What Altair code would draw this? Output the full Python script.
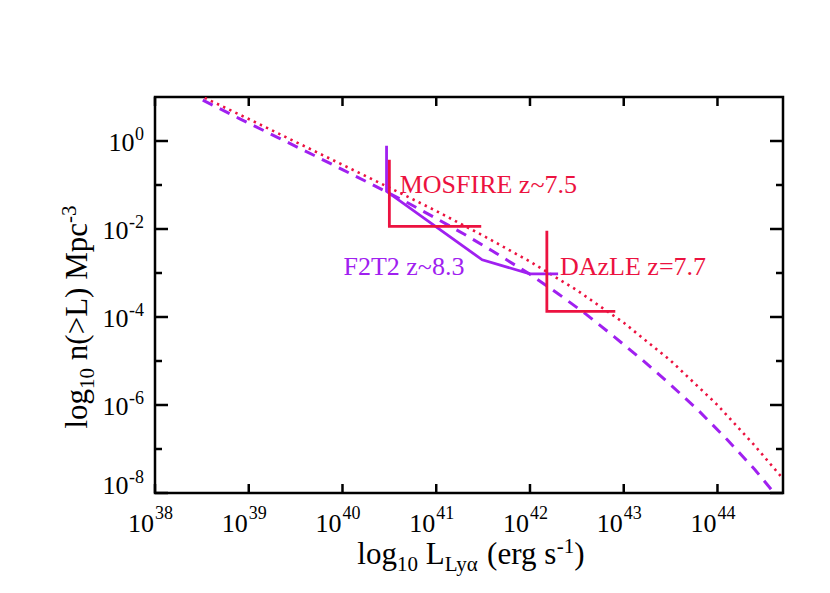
import altair as alt
import pandas as pd

# ---------------- data (log10 values) ----------------
# dashed purple model curve
dash_logL = [38.51, 38.9, 39.3, 39.7, 40.0, 40.3, 40.7, 41.0, 41.3, 41.6, 42.0,
             42.3, 42.6, 42.9, 43.2, 43.5, 43.8, 44.1, 44.4, 44.6]
dash_logn = [0.93, 0.51, 0.09, -0.33, -0.65, -0.97, -1.41, -1.76, -2.12, -2.50, -3.03,
             -3.47, -3.94, -4.45, -4.98, -5.54, -6.13, -6.78, -7.47, -7.99]
# dotted red model curve
dot_logL = [38.53, 39.0, 39.5, 40.0, 40.5, 41.0, 41.5, 42.0, 42.5, 43.0, 43.5,
            44.0, 44.4, 44.70]
dot_logn = [0.98, 0.50, -0.02, -0.54, -1.06, -1.59, -2.15, -2.74, -3.39, -4.13, -4.99,
            -6.00, -6.93, -7.68]

# survey constraints
f2t2_logL = [40.47, 40.47, 41.49, 42.00, 42.30]
f2t2_logn = [-0.11, -1.145, -2.70, -3.02, -3.02]
mosfire_logL = [40.50, 40.50, 41.48]
mosfire_logn = [-0.425, -1.94, -1.94]
dazle_logL = [42.18, 42.18, 42.91]
dazle_logn = [-2.04, -3.87, -3.87]

label_text = ["MOSFIRE z~7.5", "F2T2 z~8.3", "DAzLE z=7.7"]
label_survey = ["MOSFIRE", "F2T2", "DAzLE"]
label_logL = [40.61, 40.01, 42.32]
label_logn = [-1.18, -3.04, -3.04]

x_tick_exps = [38, 39, 40, 41, 42, 43, 44]
y_tick_exps = [0, -1, -2, -3, -4, -5, -6, -7, -8]
y_label_exps = [0, -2, -4, -6, -8]

x_domain = [38, 44.699]
y_domain = [-8, 1]

# ---------------- styling ----------------
RED = "#EC1240"
PURPLE = "#A020F0"
FONT = "Liberation Serif"
W, H = 628, 396

survey_scale = alt.Scale(domain=["MOSFIRE", "F2T2", "DAzLE"], range=[RED, PURPLE, RED])


def X(field):
    return alt.X(field, type="quantitative", scale=alt.Scale(domain=x_domain, nice=False, zero=False), axis=None)


def Y(field):
    return alt.Y(field, type="quantitative", scale=alt.Scale(domain=y_domain, nice=False, zero=False), axis=None)


dash_df = pd.DataFrame({"logL": dash_logL, "logn": dash_logn, "i": range(len(dash_logL))})
dot_df = pd.DataFrame({"logL": dot_logL, "logn": dot_logn, "i": range(len(dot_logL))})

rows = []
for name, xs, ys in [("F2T2", f2t2_logL, f2t2_logn), ("MOSFIRE", mosfire_logL, mosfire_logn),
                     ("DAzLE", dazle_logL, dazle_logn)]:
    for i, (a, b) in enumerate(zip(xs, ys)):
        rows.append({"survey": name, "i": i, "logL": a, "logn": b})
surv_df = pd.DataFrame(rows)

lab_df = pd.DataFrame({"label": label_text, "survey": label_survey, "logL": label_logL, "logn": label_logn})

layers = []

dotted = alt.Chart(dot_df).mark_line(color=RED, strokeWidth=2.6, strokeDash=[2.4, 4.4], clip=True).encode(
    x=X("logL"), y=Y("logn"), order="i:Q")
dashed = alt.Chart(dash_df).mark_line(color=PURPLE, strokeWidth=3, strokeDash=[11, 8], clip=True).encode(
    x=X("logL"), y=Y("logn"), order="i:Q")
surveys = alt.Chart(surv_df).mark_line(strokeWidth=2.8, strokeJoin="miter", strokeCap="butt").encode(
    x=X("logL"), y=Y("logn"), order="i:Q", detail="survey:N",
    color=alt.Color("survey:N", scale=survey_scale, legend=None))
labels = alt.Chart(lab_df).mark_text(font=FONT, fontSize=26, align="left", baseline="alphabetic").encode(
    x=X("logL"), y=Y("logn"), text="label:N",
    color=alt.Color("survey:N", scale=survey_scale, legend=None))
layers += [dotted, dashed, surveys, labels]

# ---------------- ticks (drawn inward) ----------------
xt_df = pd.DataFrame({"e": x_tick_exps})
yt_df = pd.DataFrame({"e": y_tick_exps})
tick_style = dict(color="black", strokeWidth=2.5)
layers.append(alt.Chart(xt_df).mark_rule(**tick_style).encode(x=X("e"), y=alt.value(H), y2=alt.value(H - 9)))
layers.append(alt.Chart(xt_df).mark_rule(**tick_style).encode(x=X("e"), y=alt.value(0), y2=alt.value(9)))
major = alt.datum.e % 2 == 0
minor = alt.datum.e % 2 != 0
for filt, ln in [(major, 13), (minor, 7)]:
    layers.append(alt.Chart(yt_df).transform_filter(filt).mark_rule(**tick_style).encode(
        y=Y("e"), x=alt.value(0), x2=alt.value(ln)))
    layers.append(alt.Chart(yt_df).transform_filter(filt).mark_rule(**tick_style).encode(
        y=Y("e"), x=alt.value(W), x2=alt.value(W - ln)))

# ---------------- tick labels ----------------
BASE, EXP = 26, 18
xl_df = pd.DataFrame({"e": x_tick_exps, "ten": ["10"] * len(x_tick_exps),
                      "sup": [str(v) for v in x_tick_exps]})
layers.append(alt.Chart(xl_df).mark_text(font=FONT, fontSize=BASE, align="right", baseline="alphabetic", dx=-1).encode(
    x=X("e"), y=alt.value(H + 38.5), text="ten:N"))
layers.append(alt.Chart(xl_df).mark_text(font=FONT, fontSize=EXP, align="left", baseline="alphabetic", dx=0).encode(
    x=X("e"), y=alt.value(H + 26), text="sup:N"))

yl_df = pd.DataFrame({"e": y_label_exps, "ten": ["10"] * len(y_label_exps),
                      "sup": [str(v) for v in y_label_exps]})
right_edge = -11
w_one = 0.5 * EXP + 0.5
w_two = 0.833 * EXP + 0.5
groups = [
    (alt.datum.e == 0, w_one, 0),
    ((alt.datum.e < 0) & (alt.datum.e > -8), w_two, 0),
    (alt.datum.e == -8, w_two, -9),
]
for filt, wexp, shift in groups:
    c = alt.Chart(yl_df).transform_filter(filt)
    layers.append(c.mark_text(font=FONT, fontSize=BASE, align="right", baseline="alphabetic", dy=10 + shift).encode(
        y=Y("e"), x=alt.value(right_edge - wexp), text="ten:N"))
    layers.append(c.mark_text(font=FONT, fontSize=EXP, align="right", baseline="alphabetic", dy=-1 + shift).encode(
        y=Y("e"), x=alt.value(right_edge), text="sup:N"))

# ---------------- axis titles (composed pieces) ----------------
TW = {'l': .278, 'o': .5, 'g': .5, ' ': .25, 'L': .611, 'y': .5, 'α': .54, '(': .333, 'e': .444,
      'r': .333, 's': .389, '-': .333, '1': .5, '0': .5, ')': .333, 'n': .5, '>': .564,
      'M': .889, 'p': .5, 'c': .444, '3': .5}
TS, TSS = 31, 21


def width(txt, size):
    return sum(TW.get(ch, .5) for ch in txt) * size


xt_pieces = [("log", TS, 0), ("10", TSS, 7), (" ", TS, None), ("L", TS, 0), ("Lyα", TSS, 7),
             (" ", TS, None), ("(erg s", TS, 0), ("-1", TSS, -11), (")", TS, 0)]
total = sum(width(t, s) for t, s, _ in xt_pieces)
pos = W / 2 + 2 - total / 2
base_y = H + 71
for t, s, off in xt_pieces:
    if off is not None:
        layers.append(alt.Chart(xt_df).transform_filter(alt.datum.e == 38).mark_text(
            font=FONT, fontSize=s, align="left", baseline="alphabetic").encode(
            x=alt.value(pos), y=alt.value(base_y + off), text=alt.value(t)))
    pos += width(t, s)

yt_pieces = [("log", TS, 0), ("10", TSS, 7), (" ", TS, None), ("n(>L) Mpc", TS, 0), ("-3", TSS, -11)]
total = sum(width(t, s) for t, s, _ in yt_pieces)
pos = H / 2 + 22 + total / 2
base_x = -68
for t, s, off in yt_pieces:
    if off is not None:
        layers.append(alt.Chart(xt_df).transform_filter(alt.datum.e == 38).mark_text(
            font=FONT, fontSize=s, align="left", baseline="alphabetic", angle=270).encode(
            x=alt.value(base_x + off), y=alt.value(pos), text=alt.value(t)))
    pos -= width(t, s)

chart = alt.layer(*layers).properties(
    width=W, height=H,
    autosize=alt.AutoSizeParams(type="none"),
    padding={"left": 147, "top": 89, "right": 39, "bottom": 90},
).configure_view(stroke="black", strokeWidth=2.5).configure_text(font=FONT)

chart.save("out.html", embed_options={"renderer": "svg", "actions": False})
